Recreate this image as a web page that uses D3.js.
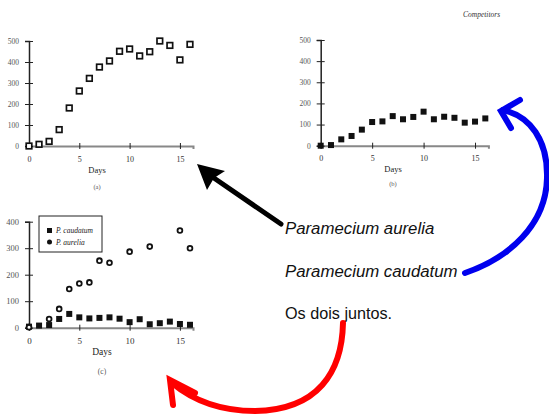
<!DOCTYPE html>
<html><head><meta charset="utf-8">
<script src="https://cdn.jsdelivr.net/npm/d3@7"></script>
<style>body{margin:0;background:#fff}svg{display:block}</style>
</head><body>
<script>
// ---- data ----
const days = d3.range(0, 17);
const aureliaAlone = [0, 8, 22, 78, 181, 262, 322, 376, 405, 451, 462, 429, 449, 500, 479, 410, 484];
const caudatumAlone = [0, 3, 30, 46, 76, 112, 115, 140, 125, 136, 161, 125, 137, 132, 109, 114, 129];
const mixedAureliaDays = [0, 2, 3, 4, 5, 6, 7, 8, 10, 12, 15, 16];
const mixedAurelia = [2, 33, 71, 146, 167, 171, 253, 245, 287, 306, 367, 300];
const mixedCaudatum = [4, 8, 10, 33, 52, 39, 35, 37, 39, 34, 21, 32, 13, 17, 23, 14, 11];
const xTicks = [0, 5, 10, 15];
const yTicksAB = [0, 100, 200, 300, 400, 500];
const yTicksC = [0, 100, 200, 300, 400];
const panelLabels = ["(a)", "(b)", "(c)"];
const legendLabels = ["P. caudatum", "P. aurelia"];
const captions = ["Paramecium aurelia", "Paramecium caudatum", "Os dois juntos."];
const cornerLabel = "Competitors";

const W = 549, H = 416;
const svg = d3.select("body").append("svg").attr("width", W).attr("height", H);
const serif = "'Liberation Serif','DejaVu Serif',serif";

function panel(cfg) {
  const g = svg.append("g");
  const x = d3.scaleLinear().domain([0, 16.3]).range([cfg.x0, cfg.x1]);
  const y = d3.scaleLinear().domain([0, cfg.ymax]).range([cfg.y0, cfg.y1]);
  const xa = g.append("g").attr("transform", `translate(0,${cfg.y0})`)
    .call(d3.axisBottom(x).tickValues(xTicks).tickSizeOuter(0).tickSize(3).tickPadding(7));
  xa.select(".domain").attr("stroke", "#888").attr("stroke-width", 2);
  xa.selectAll(".tick line").attr("y1", -3).attr("y2", 3).attr("stroke", "#222");
  xa.selectAll("text").attr("font-family", serif).attr("font-size", cfg.fs).attr("fill", "#333");
  const ya = g.append("g").attr("transform", `translate(${cfg.x0},0)`)
    .call(d3.axisLeft(y).tickValues(cfg.yticks).tickSizeOuter(0).tickSize(4).tickPadding(6));
  ya.select(".domain").attr("stroke", "#222").attr("stroke-width", 1.5);
  ya.selectAll(".tick line").attr("x1", -4).attr("x2", 4).attr("stroke", "#222");
  ya.selectAll("text").attr("font-family", serif).attr("font-size", cfg.fs - 0.5).attr("fill", "#555");
  g.append("text").attr("x", cfg.labX).attr("y", cfg.daysY).attr("text-anchor", "middle")
    .attr("font-family", serif).attr("font-size", cfg.fs + 0.5).attr("fill", "#222").text("Days");
  g.append("text").attr("x", cfg.labX).attr("y", cfg.capY).attr("text-anchor", "middle")
    .attr("font-family", serif).attr("font-size", cfg.fs - 1.5).attr("fill", "#555").text(cfg.label);
  return {g, x, y};
}

// (a)
const pa = panel({x0: 29, x1: 193, y0: 146, y1: 41, ymax: 500, yticks: yTicksAB, fs: 8,
  labX: 97, daysY: 173, capY: 189, label: panelLabels[0]});
pa.g.selectAll("rect.pt").data(aureliaAlone).join("rect")
  .attr("x", (d, i) => pa.x(days[i]) - 2.8).attr("y", d => pa.y(d) - 2.8)
  .attr("width", 5.6).attr("height", 5.6)
  .attr("fill", "#fff").attr("stroke", "#111").attr("stroke-width", 1.7);

// (b)
const pb = panel({x0: 320.7, x1: 488.4, y0: 145.7, y1: 40, ymax: 500, yticks: yTicksAB, fs: 8,
  labX: 393, daysY: 172, capY: 186, label: panelLabels[1]});
pb.g.selectAll("rect.pt").data(caudatumAlone).join("rect")
  .attr("x", (d, i) => pb.x(days[i]) - 3).attr("y", d => pb.y(d) - 3)
  .attr("width", 6).attr("height", 6).attr("fill", "#111");

// (c)
const pc = panel({x0: 29, x1: 193, y0: 327.7, y1: 221.7, ymax: 400, yticks: yTicksC, fs: 9,
  labX: 102, daysY: 355, capY: 374, label: panelLabels[2]});
pc.g.selectAll("rect.pt").data(mixedCaudatum).join("rect")
  .attr("x", (d, i) => pc.x(days[i]) - 3).attr("y", d => pc.y(d) - 3)
  .attr("width", 6).attr("height", 6).attr("fill", "#111");
pc.g.selectAll("circle.pt").data(mixedAurelia).join("circle")
  .attr("cx", (d, i) => pc.x(mixedAureliaDays[i])).attr("cy", d => pc.y(d))
  .attr("r", 2.4).attr("fill", "#fff").attr("stroke", "#111").attr("stroke-width", 1.8);
const lg = pc.g.append("g");
lg.append("rect").attr("x", 39).attr("y", 216).attr("width", 63).attr("height", 36)
  .attr("fill", "#fff").attr("stroke", "#222").attr("stroke-width", 1);
lg.append("rect").attr("x", 47).attr("y", 228).attr("width", 5).attr("height", 5).attr("fill", "#111");
lg.append("circle").attr("cx", 49.5).attr("cy", 242).attr("r", 2.5).attr("fill", "#111");
lg.selectAll("text.lg").data(legendLabels).join("text")
  .attr("x", 56).attr("y", (d, i) => 233 + i * 11.5)
  .attr("font-family", serif).attr("font-style", "italic").attr("font-size", 7.5).attr("fill", "#222")
  .text(d => d);

svg.append("text").attr("x", 463).attr("y", 17).attr("font-family", serif).attr("font-style", "italic")
  .attr("font-size", 7.5).attr("fill", "#333").text(cornerLabel);

const sans = "'Liberation Sans',Arial,sans-serif";
svg.selectAll("text.cap").data(captions).join("text")
  .attr("x", 285).attr("y", (d, i) => 234 + i * 42.5)
  .attr("font-family", sans).attr("font-size", (d, i) => i < 2 ? 16.8 : 16.2).attr("fill", "#111")
  .attr("font-style", (d, i) => i < 2 ? "italic" : "normal")
  .text(d => d);

svg.append("path").attr("d", "M281,224 L211,176").attr("stroke", "#000").attr("stroke-width", 5)
  .attr("stroke-linecap", "round").attr("fill", "none");
svg.append("path").attr("d", "M197,164 L225,171 L214,178 L207,190 Z").attr("fill", "#000");

svg.append("path").attr("d", "M465,273 C509,258 546,225 547,178 C548,140 530,116 503,110")
  .attr("stroke", "#0000ee").attr("stroke-width", 6).attr("fill", "none").attr("stroke-linecap", "round");
svg.append("path").attr("d", "M520,100 L501,111 L511,128")
  .attr("stroke", "#0000ee").attr("stroke-width", 6).attr("fill", "none")
  .attr("stroke-linejoin", "miter").attr("stroke-linecap", "round");

svg.append("path").attr("d", "M343,323 C342,372 318,410 255,411 C215,411 190,398 172,383")
  .attr("stroke", "#ff0000").attr("stroke-width", 6).attr("fill", "none").attr("stroke-linecap", "round");
svg.append("path").attr("d", "M195,393 L170,380 L173,405")
  .attr("stroke", "#ff0000").attr("stroke-width", 6).attr("fill", "none")
  .attr("stroke-linejoin", "miter").attr("stroke-linecap", "round");
</script>
</body></html>
